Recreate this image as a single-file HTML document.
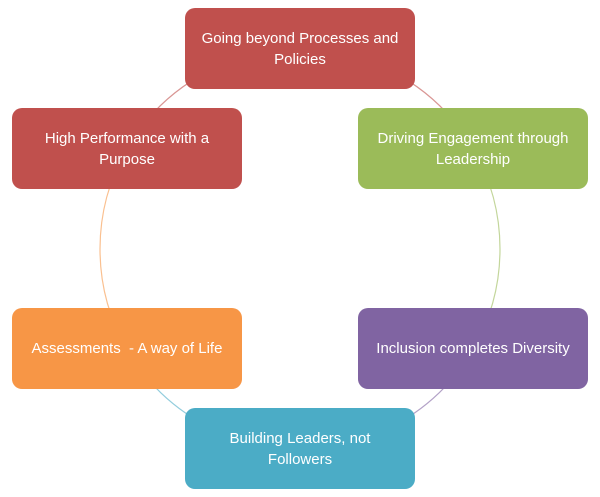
<!DOCTYPE html>
<html><head><style>
body{margin:0;width:600px;height:497px;background:#fff;position:relative;overflow:hidden;font-family:"Liberation Sans",sans-serif}
.b{position:absolute;width:230px;height:81px;border-radius:10px;color:#fff;font-size:15px;line-height:21px;display:flex;align-items:center;justify-content:center;text-align:center;padding:0 12px;box-sizing:border-box}
</style></head><body>
<svg width="600" height="497" style="position:absolute;left:0;top:0" fill="none" stroke-width="1.2">
<path d="M300 49 A200 200 0 0 1 473.2 149" stroke="#d99694"/>
<path d="M473.2 149 A200 200 0 0 1 473.2 349" stroke="#c3d69b"/>
<path d="M473.2 349 A200 200 0 0 1 300 449" stroke="#b3a2c7"/>
<path d="M300 449 A200 200 0 0 1 126.8 349" stroke="#93cddd"/>
<path d="M126.8 349 A200 200 0 0 1 126.8 149" stroke="#fac090"/>
<path d="M126.8 149 A200 200 0 0 1 300 49" stroke="#d99694"/>
</svg>
<div class="b" style="left:185px;top:8px;background:#c0504d">Going beyond Processes and Policies</div>
<div class="b" style="left:358px;top:108px;background:#9bbb59">Driving Engagement through Leadership</div>
<div class="b" style="left:12px;top:108px;background:#c0504d">High Performance with a Purpose</div>
<div class="b" style="left:12px;top:308px;background:#f79646">Assessments&nbsp; - A way of Life</div>
<div class="b" style="left:358px;top:308px;background:#8064a2">Inclusion completes Diversity</div>
<div class="b" style="left:185px;top:408px;background:#4bacc6">Building Leaders, not Followers</div>
</body></html>
